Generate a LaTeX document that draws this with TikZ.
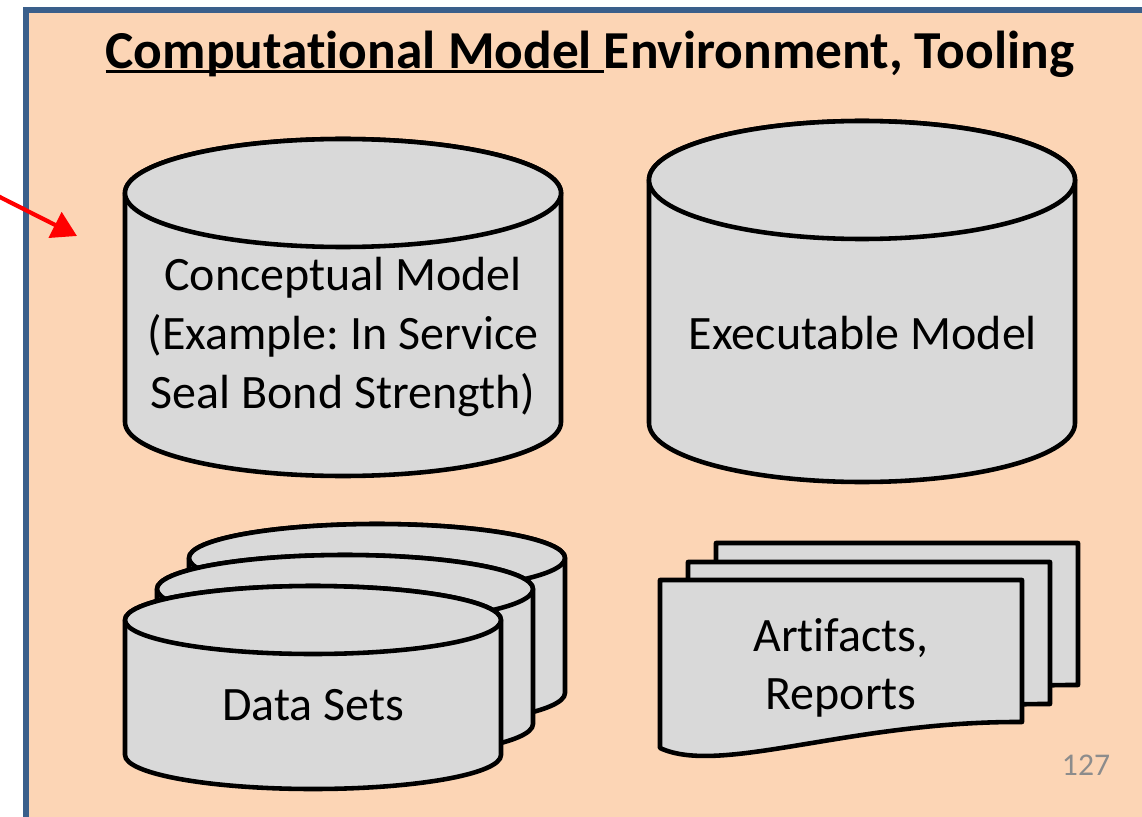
\documentclass[tikz,border=0pt]{standalone}
\usepackage{fontspec}
\setmainfont[Ligatures=NoCommon]{Carlito}
\usepackage{tikz}
\usetikzlibrary{positioning,arrows.meta}
\usepackage{xcolor}
\definecolor{panelpeach}{HTML}{FCD5B5}
\definecolor{panelblue}{HTML}{3A5F8B}
\definecolor{storegray}{HTML}{D9D9D9}
\definecolor{pagegray}{HTML}{8C8C8C}
\newsavebox{\headbox}
\newcommand{\headul}[1]{\sbox{\headbox}{#1}\rlap{\rule[-3pt]{\wd\headbox}{1.8pt}}\usebox{\headbox}}
\frenchspacing

\begin{document}
\begin{tikzpicture}[
    x=0.02cm, y=0.02cm,
    panel/.style={draw=panelblue, line width=3pt, fill=panelpeach},
    store/.style={draw=black, line width=2.6pt, fill=storegray, line join=round},
    heading/.style={font=\fontsize{30.4}{36}\selectfont\bfseries},
    label/.style={font=\fontsize{27.3}{33.4}\selectfont, align=center},
    pagenum/.style={font=\fontsize{18}{20}\selectfont, text=pagegray},
    pointer/.style={draw=red, line width=2.4pt, -{Triangle[length=14pt, width=16pt]}}
]
\useasboundingbox (0,0) rectangle (1142,816);

% ----- Panel -----
\draw[panel] (26,-40) rectangle (1190,806);
\node[heading] (title) at (590,762) {\headul{Computational Model\ }Environment, Tooling};

% ----- Pointer from outside -----
\coordinate (pointtail) at (-20,629);
\coordinate (pointtip) at (77,580);
\draw[pointer] (pointtail) -- (pointtip);

% ----- Model stores and data sets (back to front) -----
\foreach \cx/\top/\bot/\rx/\ry in {343/623/394/218/54, 862/636/393/213/59,
    377/258/123/188/34, 345/227/92/188/34, 313/196/61/188/34}{
    \filldraw[store] (\cx-\rx,\top) -- (\cx-\rx,\bot)
        arc[start angle=180, end angle=360, x radius=\rx, y radius=\ry]
        -- (\cx+\rx,\top)
        arc[start angle=0, end angle=180, x radius=\rx, y radius=\ry] -- cycle;
    \draw[store] (\cx,\top) ellipse [x radius=\rx, y radius=\ry];
}

% ----- Documents (back to front) -----
\foreach \dx/\dy in {56/37, 28/18, 0/0}{
    \filldraw[store, shift={(\dx,\dy)}] (660,236) -- (660,68)
        .. controls (720,40) and (850,95) .. (1022,94) -- (1022,236) -- cycle;
}

% ----- Labels -----
\node[label] (concept) at (343,479) {Conceptual Model\\(Example: In Service\\Seal Bond Strength)};
\node[label] (exec) at (863,483) {Executable Model};
\node[label] (data) at (313,111) {Data Sets};
\node[label] (docs) at (841,148) {Artifacts,\\Reports};
\node[pagenum] (page) at (1086,51) {127};

\end{tikzpicture}
\end{document}
